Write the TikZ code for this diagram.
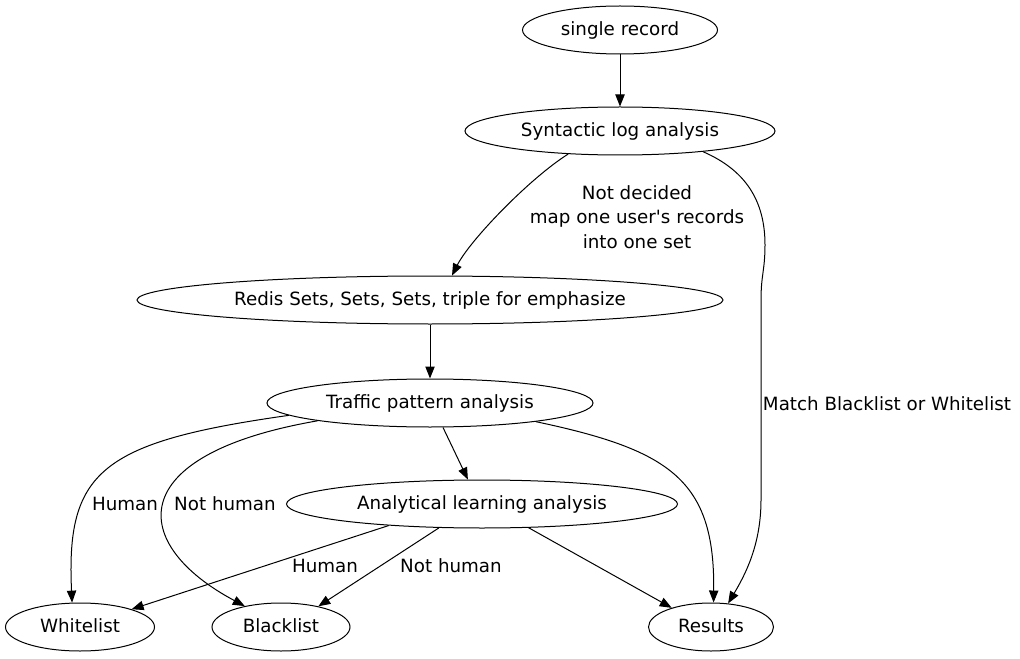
\documentclass[tikz,border=0pt]{standalone}
\usepackage{fontspec}
\newfontfamily\dvs{DejaVu Sans}
\usetikzlibrary{shapes.geometric,arrows.meta}
\begin{document}
\begin{tikzpicture}[x=0.75pt,y=-0.75pt,
  every node/.style={font=\dvs\fontsize{13.7}{18.4}\selectfont},
  nd/.style={draw,ellipse,inner sep=0pt,minimum height=36pt,line width=0.75pt,text height=10pt,text depth=2.3pt},
  lbl/.style={inner sep=0pt,align=center},
  edge/.style={line width=0.75pt,-{Triangle[length=9pt,width=7pt]}}]
\useasboundingbox (0,0) rectangle (1020,659);
% nodes
\node[nd,minimum width=146.25pt] (sr) at (620,30) {single record};
\node[nd,minimum width=232.5pt] (sla) at (620,131) {Syntactic log analysis};
\node[nd,minimum width=439.5pt] (redis) at (430,300) {Redis Sets, Sets, Sets, triple for emphasize};
\node[nd,minimum width=244.5pt] (tpa) at (430,403) {Traffic pattern analysis};
\node[nd,minimum width=293.25pt] (ala) at (482,504) {Analytical learning analysis};
\node[nd,minimum width=111.75pt] (wl) at (80,627) {Whitelist};
\node[nd,minimum width=103.5pt] (bl) at (281,627) {Blacklist};
\node[nd,minimum width=93.75pt] (res) at (711,627) {Results};
% labels
\node[lbl] (l1) at (637,217) {Not decided\\map one user's records\\into one set};
\node[lbl] (l2) at (887,404) {Match Blacklist or Whitelist};
\node[lbl] (l3) at (125,504) {Human};
\node[lbl] (l4) at (225,504) {Not human};
\node[lbl] (l5) at (325,566) {Human};
\node[lbl] (l6) at (451,566) {Not human};
% edges
\draw[edge] (sr) -- (sla);
\draw[edge] (sla.204.4) .. controls (530,178) and (470,240) .. (redis.48.8);
\draw[edge] (sla.346.7) .. controls (745,170) and (765,200) .. (765,245)
  .. controls (765,270) and (761,275) .. (761,300) -- (761,500)
  .. controls (761,545) and (745,575) .. (res.54.5);
\draw[edge] (redis) -- (tpa);
\draw[edge] (tpa.185.4) .. controls (100,442) and (66,472) .. (wl.108.5);
\draw[edge] (tpa.189.6) .. controls (120,455) and (130,545) .. (bl.150.3);
\draw[edge] (tpa.298.5) -- (ala.120.4);
\draw[edge] (tpa.350.4) .. controls (670,450) and (715,480) .. (res.84);
\draw[edge] (ala.193) -- (wl.19.7);
\draw[edge] (ala.209.1) -- (bl.29.7);
\draw[edge] (ala.333.1) -- (res.154.4);
\end{tikzpicture}
\end{document}
